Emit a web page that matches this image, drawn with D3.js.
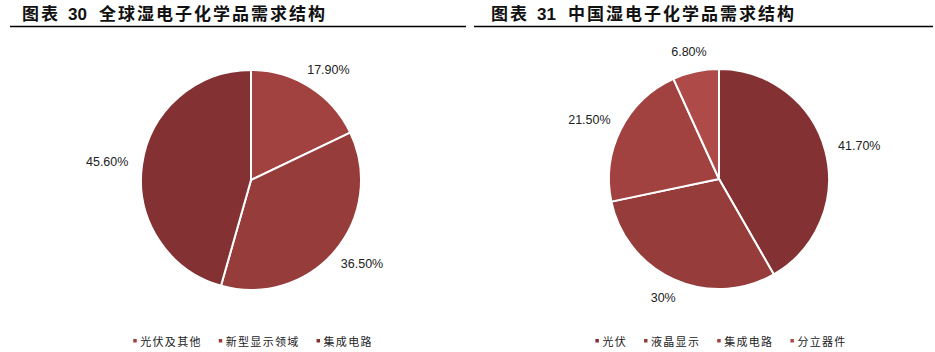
<!DOCTYPE html>
<html lang="zh">
<head>
<meta charset="UTF-8">
<title>湿电子化学品需求结构</title>
<script src="https://d3js.org/d3.v7.min.js"></script>
<style>
    body { margin: 0; background: #fff; }
    .title { font-family: "Noto Sans CJK SC", sans-serif; font-size: 17px; font-weight: bold; fill: #111; letter-spacing: 2px; }
    .title .num { font-family: "Liberation Sans", Arial, sans-serif; letter-spacing: 0; }
    .pct { font-family: "Liberation Sans", Arial, sans-serif; font-size: 12.5px; fill: #222; }
    .legend text { font-family: "Noto Sans CJK SC", sans-serif; font-size: 11px; fill: #222; letter-spacing: 1.3px; }
</style>
</head>
<body>
<svg id="chart" width="935" height="352"></svg>
<script>
// chart 30: global demand structure
const globalCategories = ["光伏及其他", "新型显示领域", "集成电路"];
const globalValues = [17.9, 36.5, 45.6];
const globalLabels = ["17.90%", "36.50%", "45.60%"];

// chart 31: China demand structure
const chinaCategories = ["光伏", "液晶显示", "集成电路", "分立器件"];
const chinaValues = [41.7, 30, 21.5, 6.8];
const chinaLabels = ["41.70%", "30%", "21.50%", "6.80%"];

const globalColors = ["#a14241", "#963c3b", "#833133"];
const chinaColors = ["#833133", "#963c3b", "#a14241", "#ae4b48"];

const svg = d3.select("#chart");
const radius = 110;
const labelRadius = 124;

function drawPanel(opt) {
    const g = svg.append("g");

    // title + rule
    const title = g.append("text").attr("class", "title").attr("y", 20);
    title.append("tspan").attr("x", opt.titleX).text("图表");
    title.append("tspan").attr("class", "num").attr("x", opt.titleX + 46).text(opt.num);
    title.append("tspan").attr("x", opt.titleX + 77).text(opt.title);

    g.append("line")
        .attr("x1", opt.lineX1).attr("x2", opt.lineX2)
        .attr("y1", 26.5).attr("y2", 26.5)
        .attr("stroke", "#000").attr("stroke-width", 1.3);

    // pie
    const pie = d3.pie().sort(null).value(d => d);
    const arc = d3.arc().innerRadius(0).outerRadius(radius);
    const arcs = pie(opt.values);

    const pg = g.append("g").attr("transform", `translate(${opt.cx},${opt.cy})`);
    pg.selectAll("path")
        .data(arcs)
        .enter()
        .append("path")
        .attr("d", arc)
        .attr("fill", (d, i) => opt.colors[i])
        .attr("stroke", "#fff")
        .attr("stroke-width", 2);

    // percentage labels, pushed outward by half their box
    pg.selectAll("text.pct")
        .data(arcs)
        .enter()
        .append("text")
        .attr("class", "pct")
        .attr("text-anchor", "middle")
        .attr("dominant-baseline", "central")
        .text((d, i) => opt.labels[i])
        .each(function (d) {
            const a = (d.startAngle + d.endAngle) / 2;
            const w = this.getComputedTextLength();
            const h = 12;
            const x = Math.sin(a) * labelRadius + Math.sin(a) * w / 2;
            const y = -Math.cos(a) * labelRadius - Math.cos(a) * h / 2;
            d3.select(this).attr("x", x).attr("y", y);
        });

    // legend, centred under the pie
    const lg = g.append("g").attr("class", "legend");
    const items = lg.selectAll("g")
        .data(opt.categories)
        .enter()
        .append("g");
    items.append("rect")
        .attr("width", 3.5).attr("height", 3.5)
        .attr("y", -2)
        .attr("fill", (d, i) => opt.colors[i]);
    items.append("text")
        .attr("x", 7)
        .attr("dominant-baseline", "central")
        .text(d => d);

    let xPos = 0;
    items.each(function () {
        const t = d3.select(this).select("text").node();
        d3.select(this).attr("transform", `translate(${xPos},0)`);
        xPos += 7 + t.getComputedTextLength() + 17;
    });
    const totalW = xPos - 17;
    lg.attr("transform", `translate(${opt.cx - totalW / 2 + 2},341)`);
}

drawPanel({
    num: "30", title: "全球湿电子化学品需求结构",
    titleX: 22, lineX1: 10, lineX2: 466,
    cx: 251, cy: 180,
    categories: globalCategories, values: globalValues,
    labels: globalLabels, colors: globalColors
});

drawPanel({
    num: "31", title: "中国湿电子化学品需求结构",
    titleX: 491, lineX1: 474, lineX2: 933,
    cx: 719, cy: 179,
    categories: chinaCategories, values: chinaValues,
    labels: chinaLabels, colors: chinaColors
});
</script>
</body>
</html>
